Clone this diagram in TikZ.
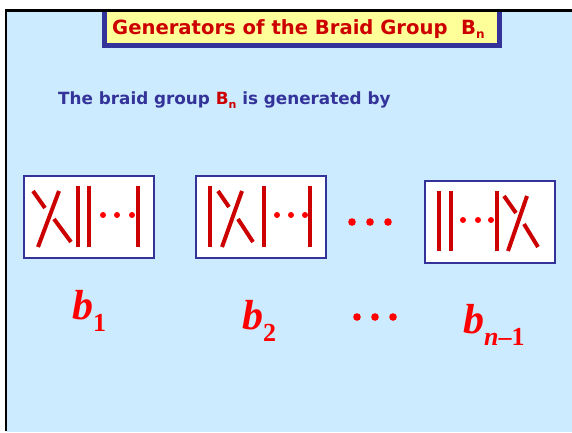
\documentclass[tikz,border=0pt]{standalone}
\usepackage{fontspec}
\setmainfont{Liberation Serif}
\newfontfamily\slidefont{DejaVu Sans}
\usetikzlibrary{positioning}
\definecolor{slideblue}{HTML}{CCEBFF}
\definecolor{framenavy}{HTML}{333399}
\definecolor{titleyellow}{HTML}{FFFF99}
\definecolor{strandred}{HTML}{CC0000}
\definecolor{dotred}{HTML}{FF0000}
\tikzset{
  title box/.style={
    draw=framenavy,
    line width=4.5pt,
    fill=titleyellow,
    minimum width=395pt,
    minimum height=37pt,
    inner sep=0pt
  },
  gen box/.style={
    draw=framenavy,
    line width=2pt,
    fill=white,
    minimum width=130pt,
    minimum height=82pt,
    inner sep=0pt,
    anchor=north west
  },
  strand/.style={
    line width=4pt,
    color=strandred
  },
  small dot/.style={
    fill=dotred
  },
  gen label/.style={
    anchor=base west,
    inner sep=0pt,
    color=dotred,
    font=\fontsize{42}{42}\selectfont\bfseries\itshape
  }
}
\newcommand{\idx}[1]{\raisebox{-0.3em}{\fontsize{26}{26}\selectfont #1}}

\begin{document}
\begin{tikzpicture}[x=1pt, y=-1pt]
    \useasboundingbox (0,0) rectangle (572,432);
    % slide background
    \fill[slideblue] (6,10) rectangle (572,432);

    % title bar
    \node[title box] (title) at (302,27) {};
    \node[anchor=base west, inner sep=0pt, text=strandred,
          font=\slidefont\bfseries\fontsize{19.6}{21}\selectfont]
      (titletext) at (112,34)
      {Generators of the Braid Group\ \ B\raisebox{-0.25em}{\fontsize{12}{12}\selectfont n}};
    \fill[white] (0,0) rectangle (572,9.5);
    \draw[black, line width=2.5pt] (6,431) |- (572,10.5);

    % intro line
    \node[anchor=base west, inner sep=0pt, text=framenavy,
          font=\slidefont\bfseries\fontsize{16.8}{18}\selectfont]
      (intro) at (58,104)
      {The braid group \textcolor{strandred}{B\raisebox{-0.25em}{\fontsize{11}{11}\selectfont n}} is generated by};

    % generator b_1
    \node[gen box] (gen1) at (23,175) {};
    \begin{scope}[shift={(gen1.north west)}]
      \draw[strand] (10,16) -- (22,33);
      \draw[strand] (31,44) -- (48,67);
      \draw[strand] (36,16) -- (15,72);
      \foreach \x in {55,66,115}
        \draw[strand] (\x,11) -- (\x,72);
      \foreach \x in {80,94,109}
        \fill[small dot] (\x,40) circle (3);
    \end{scope}

    % generator b_2
    \node[gen box] (gen2) at (195,175) {};
    \begin{scope}[shift={(gen2.north west)}]
      \draw[strand] (23,16) -- (34,32);
      \draw[strand] (43,44) -- (58,67);
      \draw[strand] (47,16) -- (27,72);
      \foreach \x in {15,69,115}
        \draw[strand] (\x,11) -- (\x,72);
      \foreach \x in {82,96,110}
        \fill[small dot] (\x,40) circle (3);
    \end{scope}

    % generator b_{n-1}
    \node[gen box] (gen3) at (424,180) {};
    \begin{scope}[shift={(gen3.north west)}]
      \draw[strand] (80,16) -- (92,33);
      \draw[strand] (100,44) -- (114,67);
      \draw[strand] (103,16) -- (84,71);
      \foreach \x in {15,27,73}
        \draw[strand] (\x,11) -- (\x,71);
      \foreach \x in {39,54,67}
        \fill[small dot] (\x,40) circle (3);
    \end{scope}

    % dots between the boxes and between the labels
    \foreach \x in {352,370,388} {
      \fill[small dot] (\x,222) circle (3.8);
      \fill[small dot] (\x+5,317) circle (3.8);
    }

    % labels
    \node[gen label] (lab1) at (72,319) {b\idx{\upshape 1}};
    \node[gen label] (lab2) at (242,329) {b\idx{\upshape 2}};
    \node[gen label] (lab3) at (463,333) {b\idx{n\upshape\textendash 1}};
\end{tikzpicture}
\end{document}
